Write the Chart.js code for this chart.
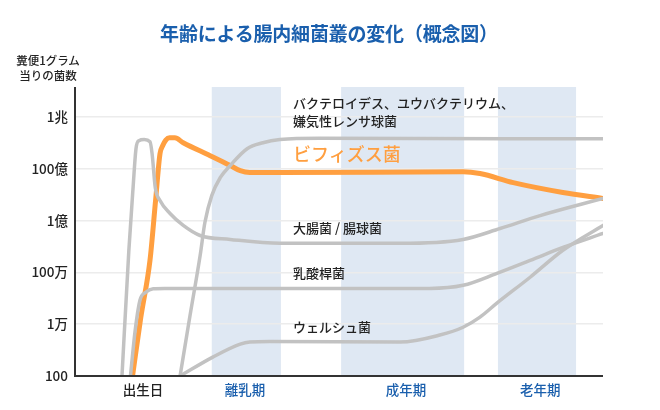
<!DOCTYPE html>
<html lang="ja">
<head>
<meta charset="utf-8">
<script src="https://cdn.jsdelivr.net/npm/chart.js@4/dist/chart.umd.min.js"></script>
<style>
  html, body { margin: 0; padding: 0; background: #fff; }
  #wrap { position: relative; width: 660px; height: 410px; font-family: "Noto Sans CJK JP", "Noto Sans", sans-serif; }
  #wrap canvas { position: absolute; left: 0; top: 0; }
  .t { position: absolute; white-space: nowrap; color: #222; }
  #title { left: 0; width: 658px; top: 19px; text-align: center; font-size: 19px; font-weight: 700; color: #1a5fad; letter-spacing: -0.2px; }
  #ylab { left: 14px; width: 68px; top: 53px; text-align: center; font-size: 11.5px; font-weight: 500; line-height: 15px; }
  .lab { left: 293px; font-size: 13px; font-weight: 500; line-height: 18px; }
  #lbBifi { font-size: 18px; color: #ff9f40; top: 144px; }
</style>
</head>
<body>
<div id="wrap">
  <canvas id="c" width="660" height="410"></canvas>
  <div class="t" id="title">年齢による腸内細菌叢の変化（概念図）</div>
  <div class="t" id="ylab">糞便1グラム<br>当りの菌数</div>
  <div class="t lab" style="top:94px">バクテロイデス、ユウバクテリウム、<br>嫌気性レンサ球菌</div>
  <div class="t lab" id="lbBifi">ビフィズス菌</div>
  <div class="t lab" style="top:219px">大腸菌 / 腸球菌</div>
  <div class="t lab" style="top:264px">乳酸桿菌</div>
  <div class="t lab" style="top:318px">ウェルシュ菌</div>
</div>
<script>
// y ticks (counts per gram, log scale)
const yTickValues = [1e2, 1e4, 1e6, 1e8, 1e10, 1e12]
const yTickLabels = ['100', '1万', '100万', '1億', '100億', '1兆']

// x axis is a conceptual age scale 0..100
const xTickValues = [12.9, 32.2, 62.7, 88.1]
const xTickLabels = ['出生日', '離乳期', '成年期', '老年期']
const xTickColors = ['#222', '#1a5fad', '#1a5fad', '#1a5fad']

// shaded life stages [from, to]
const stageBands = [[25.9, 39.0], [50.4, 73.7], [80.1, 94.9]]

// curves: age positions + log10(count)
const bacteroidesAge = [19.9, 21.8, 23.7, 24.6, 25.9, 27.5, 29.4, 32.6, 35.6, 38.8, 46.4, 100]
const bacteroidesLog = [2, 4.35, 6.65, 7.92, 8.96, 9.65, 10.12, 10.77, 11.0, 11.12, 11.17, 11.15]

const bifidoAge = [10.9, 12.44, 14.2, 15.26, 16.1, 16.6, 17.2, 17.9, 18.9, 20.5, 25.6, 29.4, 31.3, 33.1, 38.8, 73.5, 76.7, 83.0, 92.4, 100]
const bifidoLog = [2, 4.23, 6.46, 8.77, 10.58, 10.88, 11.1, 11.19, 11.19, 11.0, 10.5, 10.12, 9.92, 9.85, 9.85, 9.88, 9.81, 9.46, 9.08, 8.85]

const ecoliAge = [8.9, 10.2, 11.0, 11.55, 12.1, 13.1, 14.2, 14.6, 15.2, 16.1, 18.0, 20.5, 23.7, 29.4, 38.8, 61.6, 73.5, 80.5, 88.1, 100]
const ecoliLog = [2, 6.85, 9.27, 10.77, 11.08, 11.12, 11.04, 10.58, 9.27, 8.77, 8.27, 7.81, 7.42, 7.27, 7.12, 7.12, 7.27, 7.69, 8.19, 8.85]

const lactoAge = [10.5, 11.4, 12.3, 13.4, 14.8, 17.0, 67.2, 73.5, 79.9, 86.2, 92.4, 100]
const lactoLog = [2, 3.77, 4.92, 5.23, 5.37, 5.38, 5.38, 5.5, 5.96, 6.46, 6.96, 7.5]

const welchiiAge = [19.9, 26.1, 31.3, 33.1, 36.9, 61.6, 69.1, 73.5, 76.7, 79.9, 86.2, 92.4, 100]
const welchiiLog = [2, 2.73, 3.23, 3.31, 3.33, 3.31, 3.58, 3.88, 4.27, 4.81, 5.81, 6.85, 7.81]

const GRAY = '#c2c2c2'
const ORANGE = '#ff9f40'

function pts(ages, logs) {
  return ages.map((a, i) => ({ x: a, y: Math.pow(10, logs[i]) }))
}

function line(ages, logs, color, width) {
  return {
    data: pts(ages, logs),
    borderColor: color,
    borderWidth: width,
    pointRadius: 0,
    fill: false,
    cubicInterpolationMode: 'monotone',
    borderCapStyle: 'round',
    borderJoinStyle: 'round'
  }
}

// light blue bands behind the grid
const bandPlugin = {
  id: 'bands',
  beforeDraw(chart) {
    const { ctx, chartArea, scales } = chart
    ctx.save()
    ctx.fillStyle = '#dfe8f3'
    stageBands.forEach(([a, b]) => {
      const x0 = scales.x.getPixelForValue(a)
      const x1 = scales.x.getPixelForValue(b)
      ctx.fillRect(x0, chartArea.top, x1 - x0, chartArea.bottom - chartArea.top)
    })
    ctx.restore()
  }
}

// dark axis lines drawn on top
const axisPlugin = {
  id: 'axes',
  afterDatasetsDraw(chart) {
    const { ctx, chartArea } = chart
    ctx.save()
    ctx.strokeStyle = '#333'
    ctx.lineWidth = 2
    ctx.beginPath()
    ctx.moveTo(chartArea.left, chartArea.top)
    ctx.lineTo(chartArea.left, chartArea.bottom)
    ctx.lineTo(chartArea.right, chartArea.bottom)
    ctx.stroke()
    ctx.restore()
  }
}

const tickFont = { family: '"Noto Sans CJK JP", sans-serif', size: 13.5, weight: '500' }

new Chart(document.getElementById('c'), {
  type: 'line',
  data: {
    datasets: [
      line(welchiiAge, welchiiLog, GRAY, 3.5),
      line(lactoAge, lactoLog, GRAY, 3.5),
      line(ecoliAge, ecoliLog, GRAY, 3.5),
      line(bacteroidesAge, bacteroidesLog, GRAY, 3.5),
      line(bifidoAge, bifidoLog, ORANGE, 5)
    ]
  },
  options: {
    responsive: false,
    animation: false,
    devicePixelRatio: 1,
    layout: { padding: { top: 87, right: 57, left: 0, bottom: 0 } },
    plugins: { legend: { display: false }, tooltip: { enabled: false }, title: { display: false } },
    scales: {
      x: {
        type: 'linear',
        min: 0,
        max: 100,
        afterBuildTicks(axis) { axis.ticks = xTickValues.map(v => ({ value: v })) },
        afterFit(axis) { axis.height = 34 },
        grid: { display: false, drawTicks: false },
        border: { display: false },
        ticks: {
          autoSkip: false,
          maxRotation: 0,
          padding: 6,
          font: tickFont,
          color: ctx => xTickColors[ctx.index],
          callback: (v, i) => xTickLabels[i]
        }
      },
      y: {
        type: 'logarithmic',
        min: 1e2,
        max: Math.pow(10, 13.15),
        afterBuildTicks(axis) { axis.ticks = yTickValues.map(v => ({ value: v })) },
        afterFit(axis) { axis.width = 75 },
        grid: { color: '#ececec', lineWidth: 1.5, drawTicks: false },
        border: { display: false },
        ticks: {
          autoSkip: false,
          padding: 7,
          color: '#222',
          font: tickFont,
          callback: (v, i) => yTickLabels[i]
        }
      }
    }
  },
  plugins: [bandPlugin, axisPlugin]
})
</script>
</body>
</html>
